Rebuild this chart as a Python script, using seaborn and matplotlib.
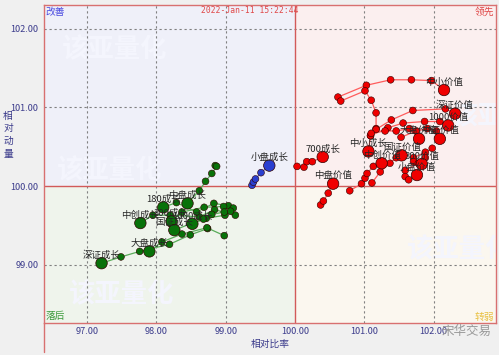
import numpy as np
import pandas as pd
import matplotlib
matplotlib.use("Agg")
import matplotlib.pyplot as plt
import matplotlib.patches as patches
import seaborn as sns

# series names, tail points from oldest to newest (last point = head)
names = [
    "深证成长", "大盘成长", "中创成长", "180成长", "中盘成长", "300成长", "国证成长", "1000成长",
    "小盘成长",
    "中小价值", "中小成长", "深证价值", "1000价值", "大盘价值", "中证价值", "国证价值",
    "中创价值", "300价值", "小盘价值", "中盘价值", "700成长",
]
rs_ratio = [
    [98.74, 98.49, 98.19, 97.76, 97.49, 97.21],
    [98.98, 98.73, 98.37, 98.08, 97.90],
    [99.14, 98.84, 98.62, 98.20, 97.95, 97.77],
    [99.04, 98.83, 98.58, 98.29, 98.10],
    [98.85, 98.87, 98.80, 98.71, 98.62, 98.45],
    [99.11, 98.97, 98.69, 98.37, 98.22],
    [98.99, 98.72, 98.49, 98.26],
    [99.07, 98.98, 98.80, 98.68, 98.52],
    [99.38, 99.40, 99.43, 99.51, 99.63],
    [100.62, 101.03, 101.38, 101.68, 101.97, 102.15],
    [100.66, 101.01, 101.10, 101.17, 101.17, 101.09, 101.06],
    [101.17, 101.39, 101.70, 102.17, 102.31],
    [101.09, 101.34, 101.56, 101.87, 102.09, 102.21],
    [101.10, 101.30, 101.46, 101.65, 101.79],
    [101.53, 101.75, 101.91, 102.04, 102.09],
    [101.11, 101.23, 101.37, 101.46, 101.54],
    [100.79, 100.96, 101.01, 101.04, 101.13, 101.25],
    [101.98, 101.88, 101.71, 101.71, 101.83],
    [101.88, 101.78, 101.59, 101.59, 101.64, 101.76],
    [100.37, 100.41, 100.48, 100.55],
    [100.03, 100.13, 100.17, 100.25, 100.40],
]
rs_momentum = [
    [99.46, 99.38, 99.26, 99.17, 99.10, 99.02],
    [99.37, 99.47, 99.39, 99.29, 99.17],
    [99.63, 99.70, 99.61, 99.63, 99.63, 99.53],
    [99.75, 99.78, 99.67, 99.79, 99.73],
    [100.26, 100.25, 100.16, 100.06, 99.94, 99.78],
    [99.72, 99.74, 99.73, 99.67, 99.55],
    [99.63, 99.59, 99.52, 99.44],
    [99.68, 99.67, 99.64, 99.58, 99.52],
    [100.01, 100.05, 100.09, 100.17, 100.26],
    [101.13, 101.28, 101.35, 101.35, 101.34, 101.22],
    [101.08, 101.21, 101.09, 100.93, 100.73, 100.64, 100.44],
    [100.72, 100.84, 100.96, 100.98, 100.92],
    [100.64, 100.74, 100.80, 100.82, 100.82, 100.77],
    [100.67, 100.70, 100.70, 100.73, 100.60],
    [100.62, 100.70, 100.73, 100.70, 100.60],
    [100.04, 100.18, 100.29, 100.36, 100.39],
    [99.94, 100.03, 100.10, 100.16, 100.25, 100.29],
    [100.48, 100.43, 100.36, 100.31, 100.28],
    [100.36, 100.29, 100.20, 100.12, 100.08, 100.14],
    [99.76, 99.81, 99.91, 100.03],
    [100.25, 100.24, 100.31, 100.31, 100.37],
]
x_ticks = [97, 98, 99, 100, 101, 102]
y_ticks = [99, 100, 101, 102]
timestamp = "2022-Jan-11 15:22:44"

rows = []
for n, xs, ys in zip(names, rs_ratio, rs_momentum):
    for i, (x, y) in enumerate(zip(xs, ys)):
        rows.append({"name": n, "ratio": x, "momentum": y, "is_head": i == len(xs) - 1})
df = pd.DataFrame(rows)


def quadrant_colors(x, y):
    # (dot colour, line colour) by quadrant of the head
    if x >= 100 and y >= 100:
        return "#f00000", "#ff5c5c"
    if x < 100 and y < 100:
        return "#08720a", "#5aac5a"
    if x < 100:
        return "#2a3fd0", "#6b7be0"
    return "#e0b000", "#f0d060"


dot_pal, line_pal = {}, {}
for n, xs, ys in zip(names, rs_ratio, rs_momentum):
    dot_pal[n], line_pal[n] = quadrant_colors(xs[-1], ys[-1])

sns.set_style("white")
plt.rcParams["font.family"] = ["Noto Sans CJK SC", "DejaVu Sans"]

fig = plt.figure(figsize=(4.99, 3.55), dpi=100, facecolor="#f0f0f0")
ax = fig.add_axes([0.0882, 0.0901, 0.9058, 0.8958])
xmin, xmax, ymin, ymax = 96.38, 102.90, 98.26, 102.30
ax.set_xlim(xmin, xmax)
ax.set_ylim(ymin, ymax)

# quadrant backgrounds
quads = [
    (xmin, 100, 100, ymax, "#eff0f9"),
    (100, xmax, 100, ymax, "#fbefef"),
    (xmin, 100, ymin, 100, "#eff4ec"),
    (100, xmax, ymin, 100, "#fbf7ef"),
]
for x0, x1, y0, y1, c in quads:
    ax.add_patch(patches.Rectangle((x0, y0), x1 - x0, y1 - y0, facecolor=c, edgecolor="none", zorder=0))

# faint watermarks (clipped by the plot frame like in the original)
for wx, wy in [(0.157, 0.858), (0.146, 0.48), (0.173, 0.088), (0.92, 0.23), (1.02, 0.648)]:
    ax.text(wx, wy, "该亚量化", transform=ax.transAxes, fontsize=19, fontweight="bold",
            color="#f4f5fd", ha="center", va="center", zorder=0.5, clip_on=True)

# grid
for gx in x_ticks:
    if gx != 100:
        ax.axvline(gx, color="#808080", lw=0.8, ls=(0, (2, 2.5)), zorder=1)
for gy in y_ticks:
    if gy != 100:
        ax.axhline(gy, color="#808080", lw=0.8, ls=(0, (2, 2.5)), zorder=1)
ax.axvline(100, color="#d25a5a", lw=1.0, zorder=1.5)
ax.axhline(100, color="#d25a5a", lw=1.0, zorder=1.5)

# tails
sns.lineplot(data=df, x="ratio", y="momentum", hue="name", palette=line_pal, sort=False,
             estimator=None, legend=False, lw=0.9, ax=ax, zorder=2)
sns.scatterplot(data=df[~df["is_head"]], x="ratio", y="momentum", hue="name", palette=dot_pal,
                s=24, edgecolor="#300000", linewidth=0.4, legend=False, ax=ax, zorder=3)
heads = df[df["is_head"]]
sns.scatterplot(data=heads, x="ratio", y="momentum", hue="name", palette=dot_pal,
                s=68, edgecolor="#300000", linewidth=0.5, legend=False, ax=ax, zorder=4)
for _, r in heads.iterrows():
    ax.annotate(r["name"], (r["ratio"], r["momentum"]), xytext=(0, 2.5), textcoords="offset points",
                ha="center", va="bottom", fontsize=6.8, color="#262626", zorder=5)

# frame
for s in ax.spines.values():
    s.set_color("#d87070")
    s.set_linewidth(1.0)
ax.plot([0, 0], [0, -0.09], transform=ax.transAxes, clip_on=False, color="#d87070", lw=1.0)

ax.set_xticks(x_ticks)
ax.set_xticklabels([f"{t:.2f}" for t in x_ticks])
ax.set_yticks(y_ticks)
ax.set_yticklabels([f"{t:.2f}" for t in y_ticks])
ax.tick_params(axis="both", labelsize=6.6, colors="#3c3c8c", length=3, width=0.8, pad=1)
ax.tick_params(axis="x", length=0, pad=3)
ax.set_xlabel("")
ax.set_ylabel("")

# quadrant names
ax.text(0.004, 0.995, "改善", transform=ax.transAxes, fontsize=7, color="#4a4ae0", ha="left", va="top")
ax.text(0.996, 0.995, "领先", transform=ax.transAxes, fontsize=7, color="#e04848", ha="right", va="top")
ax.text(0.004, 0.005, "落后", transform=ax.transAxes, fontsize=7, color="#3a9a3a", ha="left", va="bottom")
ax.text(0.996, 0.005, "转弱", transform=ax.transAxes, fontsize=7, color="#e8c040", ha="right", va="bottom")
ax.text(0.455, 0.984, timestamp, transform=ax.transAxes, fontsize=5.8, color="#e04848",
        family="DejaVu Sans Mono", ha="center", va="center")

# axis titles
fig.text(0.016, 0.62, "相\n对\n动\n量", fontsize=7, color="#3c3c8c", ha="center", va="center",
         linespacing=1.35)
fig.text(0.541, 0.031, "相对比率", fontsize=7, color="#3c3c8c", ha="center", va="center")
fig.text(0.935, 0.065, "宋华交易", fontsize=9, color="#9a9a9a", ha="center", va="center")

fig.savefig("out.png", dpi=100, facecolor=fig.get_facecolor())
